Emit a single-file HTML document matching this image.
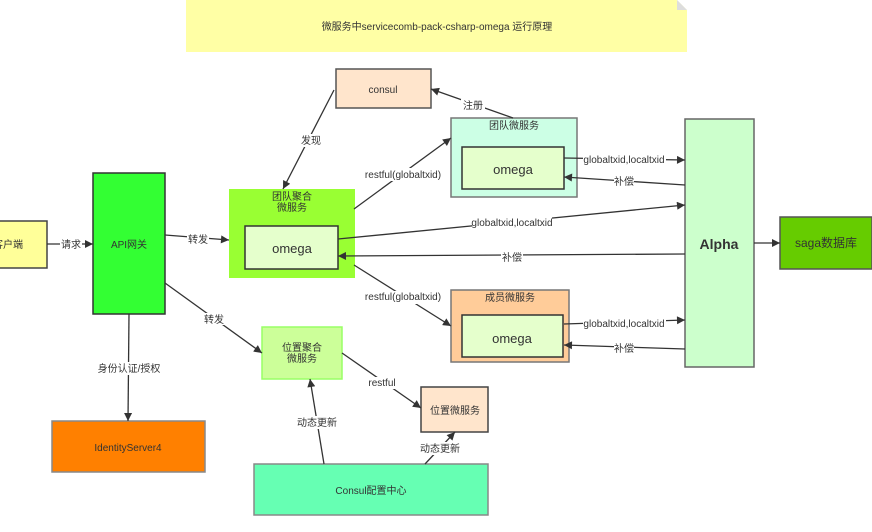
<!DOCTYPE html>
<html><head><meta charset="utf-8"><style>
html,body{margin:0;padding:0;background:#fff;width:872px;height:532px;overflow:hidden}
svg{display:block;font-family:"Liberation Sans","Noto Sans CJK SC",sans-serif}
text{fill:#333}
.l{font-size:10px;text-anchor:middle}
</style></head><body>
<svg width="872" height="532" viewBox="0 0 872 532">
<defs><marker id="a" viewBox="0 0 10 10" refX="10" refY="5" markerWidth="10" markerHeight="8" orient="auto" markerUnits="userSpaceOnUse"><path d="M0,0L10,5L0,10z" fill="#333"/></marker></defs>
<!-- note -->
<path d="M186,0H677L687,10V52H186Z" fill="#ffffa5"/>
<path d="M677,0V10H687Z" fill="#ddd"/>
<text x="437" y="30" class="l">微服务中servicecomb-pack-csharp-omega 运行原理</text>

<g stroke="#555" stroke-width="1.5">
<rect x="336" y="69" width="95" height="39" fill="#ffe5cc"/>
<rect x="451" y="118" width="126" height="79" fill="#ccffe5" stroke="#777"/>
<rect x="462" y="147" width="102" height="42" fill="#e5ffcc" stroke="#333"/>
<rect x="229" y="189" width="126" height="89" fill="#99ff33" stroke="none"/>
<rect x="245" y="226" width="93" height="43" fill="#e5ffcc" stroke="#333"/>
<rect x="-30" y="221" width="77" height="47" fill="#ffff99" stroke="#444"/>
<rect x="93" y="173" width="72" height="141" fill="#33ff33" stroke="#333"/>
<rect x="685" y="119" width="69" height="248" fill="#ccffcc" stroke="#666"/>
<rect x="780" y="217" width="92" height="52" fill="#66cc00" stroke="#555"/>
<rect x="451" y="290" width="118" height="72" fill="#ffcc99" stroke="#777"/>
<rect x="462" y="315" width="101" height="42" fill="#e5ffcc" stroke="#333"/>
<rect x="262" y="327" width="80" height="52" fill="#ccff99" stroke="#99ff66"/>
<rect x="421" y="387" width="67" height="45" fill="#ffe5cc" stroke="#444"/>
<rect x="52" y="421" width="153" height="51" fill="#ff8000" stroke="#888"/>
<rect x="254" y="464" width="234" height="51" fill="#66ffb3" stroke="#888"/>
</g>

<text x="383" y="93" class="l">consul</text>
<text x="514" y="129" class="l">团队微服务</text>
<text x="513" y="174" class="l" style="font-size:13px">omega</text>
<text x="292" y="200" class="l">团队聚合</text>
<text x="292" y="211" class="l">微服务</text>
<text x="292" y="253" class="l" style="font-size:13px">omega</text>
<text x="8" y="248" class="l">客户端</text>
<text x="129" y="248" class="l">API网关</text>
<text x="719" y="249" class="l" style="font-size:14px;font-weight:bold">Alpha</text>
<text x="826" y="247" class="l" style="font-size:12px">saga数据库</text>
<text x="510" y="301" class="l">成员微服务</text>
<text x="512" y="343" class="l" style="font-size:13px">omega</text>
<text x="302" y="351" class="l">位置聚合</text>
<text x="302" y="362" class="l">微服务</text>
<text x="455" y="414" class="l">位置微服务</text>
<text x="128" y="451" class="l">IdentityServer4</text>
<text x="371" y="494" class="l">Consul配置中心</text>

<g stroke="#333" stroke-width="1.3" fill="none" marker-end="url(#a)">
<line x1="334" y1="90" x2="283" y2="189"/>
<line x1="513" y1="118" x2="431" y2="89"/>
<line x1="354" y1="209" x2="451" y2="138"/>
<line x1="564" y1="158" x2="685" y2="160"/>
<line x1="685" y1="185" x2="564" y2="177"/>
<line x1="338" y1="239" x2="685" y2="205"/>
<line x1="685" y1="254" x2="338" y2="256"/>
<line x1="47" y1="244" x2="93" y2="244"/>
<line x1="165" y1="235" x2="229" y2="240"/>
<line x1="754" y1="243" x2="780" y2="243"/>
<line x1="354" y1="265" x2="451" y2="326"/>
<line x1="564" y1="324" x2="685" y2="320"/>
<line x1="685" y1="349" x2="564" y2="345"/>
<line x1="165" y1="283" x2="262" y2="353"/>
<line x1="129" y1="314" x2="128" y2="421"/>
<line x1="342" y1="353" x2="421" y2="408"/>
<line x1="324" y1="464" x2="310" y2="379"/>
<line x1="425" y1="464" x2="455" y2="432"/>
</g>

<g class="l">
<rect x="298" y="134" width="26" height="13" fill="#fff"/><text x="311" y="144" class="l">发现</text>
<rect x="461" y="99" width="24" height="13" fill="#fff"/><text x="473" y="109" class="l">注册</text>
<rect x="363" y="168" width="80" height="13" fill="#fff"/><text x="403" y="178" class="l">restful(globaltxid)</text>
<rect x="583" y="153" width="83" height="13" fill="#fff"/><text x="624" y="163" class="l">globaltxid,localtxid</text>
<rect x="614" y="175" width="20" height="12" fill="#fff"/><text x="624" y="185" class="l">补偿</text>
<rect x="472" y="216" width="80" height="13" fill="#fff"/><text x="512" y="226" class="l">globaltxid,localtxid</text>
<rect x="501" y="250" width="22" height="12" fill="#fff"/><text x="512" y="261" class="l">补偿</text>
<rect x="60" y="238" width="22" height="12" fill="#fff"/><text x="71" y="248" class="l">请求</text>
<rect x="187" y="233" width="22" height="12" fill="#fff"/><text x="198" y="243" class="l">转发</text>
<rect x="363" y="291" width="80" height="13" fill="#fff"/><text x="403" y="300" class="l">restful(globaltxid)</text>
<rect x="583" y="317" width="83" height="13" fill="#fff"/><text x="624" y="327" class="l">globaltxid,localtxid</text>
<rect x="614" y="342" width="20" height="12" fill="#fff"/><text x="624" y="352" class="l">补偿</text>
<rect x="203" y="313" width="22" height="12" fill="#fff"/><text x="214" y="323" class="l">转发</text>
<rect x="100" y="362" width="58" height="13" fill="#fff"/><text x="129" y="372" class="l">身份认证/授权</text>
<rect x="367" y="377" width="30" height="12" fill="#fff"/><text x="382" y="386" class="l">restful</text>
<rect x="298" y="416" width="38" height="13" fill="#fff"/><text x="317" y="426" class="l">动态更新</text>
<rect x="421" y="442" width="38" height="13" fill="#fff"/><text x="440" y="452" class="l">动态更新</text>
</g>
</svg>
</body></html>
